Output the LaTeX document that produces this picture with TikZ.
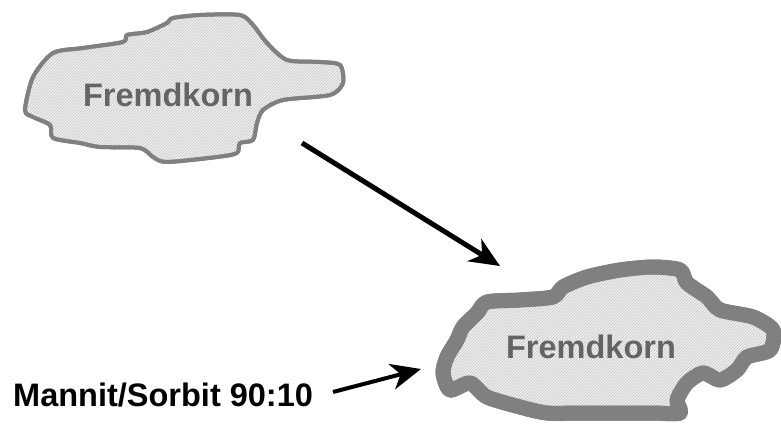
\documentclass[tikz,border=0pt]{standalone}
\usepackage{fontspec}
\setmainfont{Liberation Sans}
\usetikzlibrary{arrows.meta,patterns}
\definecolor{rimgray}{RGB}{128,128,128}
\definecolor{fillgray}{RGB}{240,240,240}
\definecolor{hatchgray}{RGB}{195,195,195}
\definecolor{textgray}{RGB}{100,100,100}
\tikzset{
  grain/.style={fill=fillgray, draw=rimgray, line join=round, line cap=round},
  hatch/.style={pattern=north east lines, pattern color=hatchgray},
  grainlabel/.style={font=\bfseries\fontsize{32.5}{36}\selectfont, text=textgray, inner sep=0pt},
  blacklabel/.style={font=\bfseries\fontsize{32.5}{36}\selectfont, text=black, inner sep=0pt},
  bigarrow/.style={-{Stealth[length=30pt,width=26pt,inset=9pt]}, line width=5pt, black},
}
\begin{document}
\begin{tikzpicture}[x=1pt,y=-1pt]
\useasboundingbox (0,0) rectangle (781,435);
% top grain
\def\toppath{plot[smooth cycle, tension=0.45] coordinates {
 (25,110) (33,77) (53,53) (83,48) (123,42) (127,35) (147,32) (167,23) (173,18)
 (200,15) (240,15) (253,25) (267,43) (287,60) (320,62) (340,65) (343,83) (330,95)
 (283,100) (263,110) (257,123) (253,140) (240,143) (237,153) (217,157) (167,162)
 (153,157) (140,148) (100,147) (80,143) (53,138) (50,125) (33,117)}}
\path[grain, line width=4pt] \toppath;
\path[hatch] \toppath;
\draw[rimgray, line width=4pt, line join=round] \toppath;
% bottom grain
\def\botpath{plot[smooth cycle, tension=0.45] coordinates {
 (443,373) (450,390) (470,383) (487,397) (520,407) (547,413) (580,413) (620,413)
 (653,413) (680,413) (677,400) (687,383) (703,373) (720,380) (737,370) (747,357)
 (770,350) (773,330) (753,317) (720,310) (707,297) (687,283) (680,270) (653,267)
 (620,270) (587,277) (563,287) (553,297) (520,300) (487,302) (477,313) (463,327)
 (457,340) (447,357)}}
\path[grain, line width=15pt] \botpath;
\path[hatch] \botpath;
\draw[rimgray, line width=15pt, line join=round, line cap=round] \botpath;
% labels
\node[grainlabel] (k1) at (168,95) {Fremdkorn};
\node[grainlabel] (k2) at (591,347) {Fremdkorn};
\node[blacklabel, anchor=west] (ms) at (13,395) {Mannit/Sorbit 90:10};
% arrows
\coordinate (a1s) at (302,143);
\coordinate (a1e) at (500,266);
\coordinate (a2s) at (333,392);
\coordinate (a2e) at (421,369);
\draw[bigarrow] (a1s) -- (a1e);
\draw[bigarrow, line width=4pt] (a2s) -- (a2e);
\end{tikzpicture}
\end{document}
